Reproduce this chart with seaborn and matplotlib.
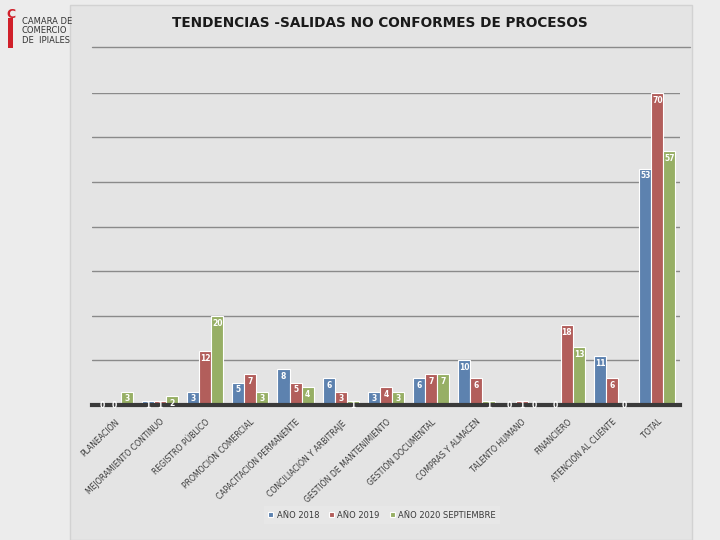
import numpy as np
import pandas as pd
import matplotlib
matplotlib.use("Agg")
import matplotlib.pyplot as plt
import seaborn as sns
from matplotlib.lines import Line2D
from matplotlib.patches import Rectangle

# ================================
# Data
# ================================

procesos = [
    "PLANEACIÓN", "MEJORAMIENTO CONTINUO", "REGISTRO PÚBLICO",
    "PROMOCIÓN COMERCIAL", "CAPACITACIÓN PERMANENTE",
    "CONCILIACIÓN Y ARBITRAJE", "GESTIÓN DE MANTENIMIENTO",
    "GESTIÓN DOCUMENTAL", "COMPRAS Y ALMACEN", "TALENTO HUMANO",
    "FINANCIERO", "ATENCIÓN AL CLIENTE", "TOTAL",
]
anio_2018 = [0, 1, 3, 5, 8, 6, 3, 6, 10, 0, 0, 11, 53]
anio_2019 = [0, 1, 12, 7, 5, 3, 4, 7, 6, 1, 18, 6, 70]
anio_2020 = [3, 2, 20, 3, 4, 1, 3, 7, 1, 0, 13, 0, 57]
series = ["AÑO 2018", "AÑO 2019", "AÑO 2020 SEPTIEMBRE"]
colores = ["#4F81BD", "#C0504D", "#9BBB59"]

df = pd.DataFrame({
    "Proceso": procesos * 3,
    "Valor": anio_2018 + anio_2019 + anio_2020,
    "Serie": [series[0]] * 13 + [series[1]] * 13 + [series[2]] * 13,
})

# ================================
# Figure
# ================================

sns.set_style("white")
plt.rcParams["font.family"] = ["Liberation Sans Narrow", "DejaVu Sans"]

fig = plt.figure(figsize=(7.2, 5.4), dpi=100, facecolor="#ececec")

# slide panel
fig.add_artist(Rectangle((70 / 720, 0), 622 / 720, 535 / 540,
                         transform=fig.transFigure, facecolor="#e4e4e4",
                         edgecolor="#d2d2d2", linewidth=1, zorder=0))

ax = fig.add_axes([92 / 720, 0.25, 588 / 720, 0.578])
ax.set_facecolor("none")

sns.barplot(data=df, x="Proceso", y="Valor", hue="Serie",
            palette=colores, width=0.8, edgecolor="white",
            linewidth=0.8, ax=ax, legend=True, zorder=3)

ax.set_ylim(0, 70)
ax.set_yticks(np.arange(10, 71, 10))
ax.set_yticklabels([])
ax.tick_params(axis="y", length=0)
ax.grid(axis="y", color="#8a8a8a", linewidth=1, zorder=0)
ax.set_axisbelow(True)
for s in ["top", "right", "left"]:
    ax.spines[s].set_visible(False)
ax.spines["bottom"].set_color("#3a3a3a")
ax.spines["bottom"].set_linewidth(3)
ax.spines["bottom"].set_zorder(5)

ax.set_xlabel("")
ax.set_ylabel("")
ax.tick_params(axis="x", length=0, pad=9)
ax.set_xticks(range(len(procesos)))
ax.set_xticklabels(procesos, rotation=44, ha="right",
                   rotation_mode="anchor", fontsize=5.6,
                   color="#3a3a3a")

# labels inside bars
for cont in ax.containers:
    for bar in cont:
        h = bar.get_height()
        x = bar.get_x() + bar.get_width() / 2
        ax.annotate(f"{int(h)}", (x, max(h, 1.6)), xytext=(0, -2),
                    textcoords="offset points", ha="center", va="top",
                    fontsize=5.5, color="white", fontweight="bold",
                    zorder=6, annotation_clip=False)

# legend
handles, labels = ax.get_legend_handles_labels()
ax.legend(handles, labels, loc="center",
          bbox_to_anchor=(382 / 720, 1 - 515 / 540),
          bbox_transform=fig.transFigure, ncol=3, fontsize=6,
          frameon=True, facecolor="#e9e9e9", edgecolor="none",
          handlelength=0.6, handleheight=0.6, handletextpad=0.4,
          columnspacing=1.2, borderpad=0.5, fancybox=False,
          labelcolor="#3a3a3a")

# title and rule
fig.text(380 / 720, 1 - 23 / 540, "TENDENCIAS -SALIDAS NO CONFORMES DE PROCESOS",
         ha="center", va="center", fontsize=9.8, fontweight="bold",
         color="#1a1a1a", family=["DejaVu Sans"])
fig.add_artist(Line2D([92 / 720, 690 / 720], [1 - 47 / 540, 1 - 47 / 540],
                      transform=fig.transFigure, color="#8a8a8a", linewidth=1))

# logo
fig.add_artist(Rectangle((8 / 720, 1 - 48 / 540), 5 / 720, 30 / 540,
                         transform=fig.transFigure, facecolor="#d0202a",
                         edgecolor="none"))
fig.text(11 / 720, 1 - 14 / 540, "C", fontsize=9, fontweight="bold",
         color="#d0202a", ha="center", va="center")
fig.text(22 / 720, 1 - 31 / 540, "CAMARA DE\nCOMERCIO\nDE  IPIALES",
         fontsize=6, color="#333333", ha="left", va="center",
         linespacing=1.1)

fig.savefig("out.png", dpi=100, facecolor=fig.get_facecolor())
